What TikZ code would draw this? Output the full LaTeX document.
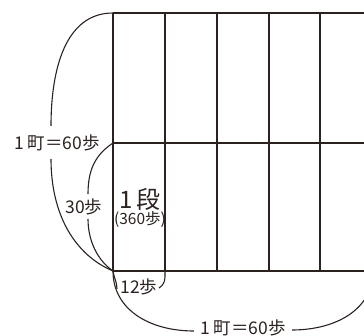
\documentclass[tikz,border=0pt]{standalone}
\usepackage{fontspec}
\newfontfamily\jp{Noto Sans CJK JP}
\definecolor{ink}{HTML}{2B2220}
\newcommand{\one}{1\kern0.2em}
\begin{document}
\begin{tikzpicture}[x=1pt,y=-1pt,
  gridline/.style={draw=ink,line width=1.4pt},
  arcline/.style={draw=ink,line width=1.1pt},
  lbl/.style={inner sep=0pt,text=ink,font=\jp\fontsize{17.5}{17.5}\selectfont},
  big/.style={inner sep=0pt,text=ink,font=\jp\fontsize{24}{24}\selectfont},
  small/.style={inner sep=0pt,text=ink,font=\jp\fontsize{15.5}{15.5}\selectfont}]
\useasboundingbox (0,0) rectangle (364,336);
% grid corners
\coordinate (TL) at (113,13);
\coordinate (ML) at (113,143);
\coordinate (BL) at (113,271);
\coordinate (B1) at (165,271);
\coordinate (B5) at (373,271);
% grid
\draw[gridline] (113,13) -- (380,13);
\draw[gridline] (113,143) -- (380,143);
\draw[gridline] (113,271) -- (380,271);
\foreach \x in {113,165,217,269,320,372}
  \draw[gridline] (\x,13) -- (\x,271);
% labels
\node[lbl] (lt) at (57,143) {\one 町＝60歩};
\node[lbl] (lh) at (84,207) {30歩};
\node[lbl] (lw) at (139,287) {12歩};
\node[lbl] (lb) at (243,328) {\one 町＝60歩};
\node[big] (dan) at (140,199) {1\kern0.15em 段};
\node[small] (dsub) at (140,220) {(360歩)};
% big left arc
\draw[arcline] (TL) .. controls (65,13) and (51,70) .. (51,126);
\draw[arcline] (51,159) .. controls (51,215) and (75,255) .. (BL);
% 30 step arc
\draw[arcline] (ML) .. controls (95,155) and (88,170) .. (88,194);
\draw[arcline] (88,219) .. controls (88,240) and (97,260) .. (BL);
% 12 step bracket
\draw[arcline] (BL) .. controls (114,278) and (117,282) .. (117,289);
\draw[arcline] (B1) -- (165,277) .. controls (165,283) and (162,286) .. (159,288);
% bottom big arc
\draw[arcline] (BL) .. controls (113,310) and (150,331) .. (194,331);
\draw[arcline] (292,330) .. controls (335,330) and (373,310) .. (B5);
\end{tikzpicture}
\end{document}
